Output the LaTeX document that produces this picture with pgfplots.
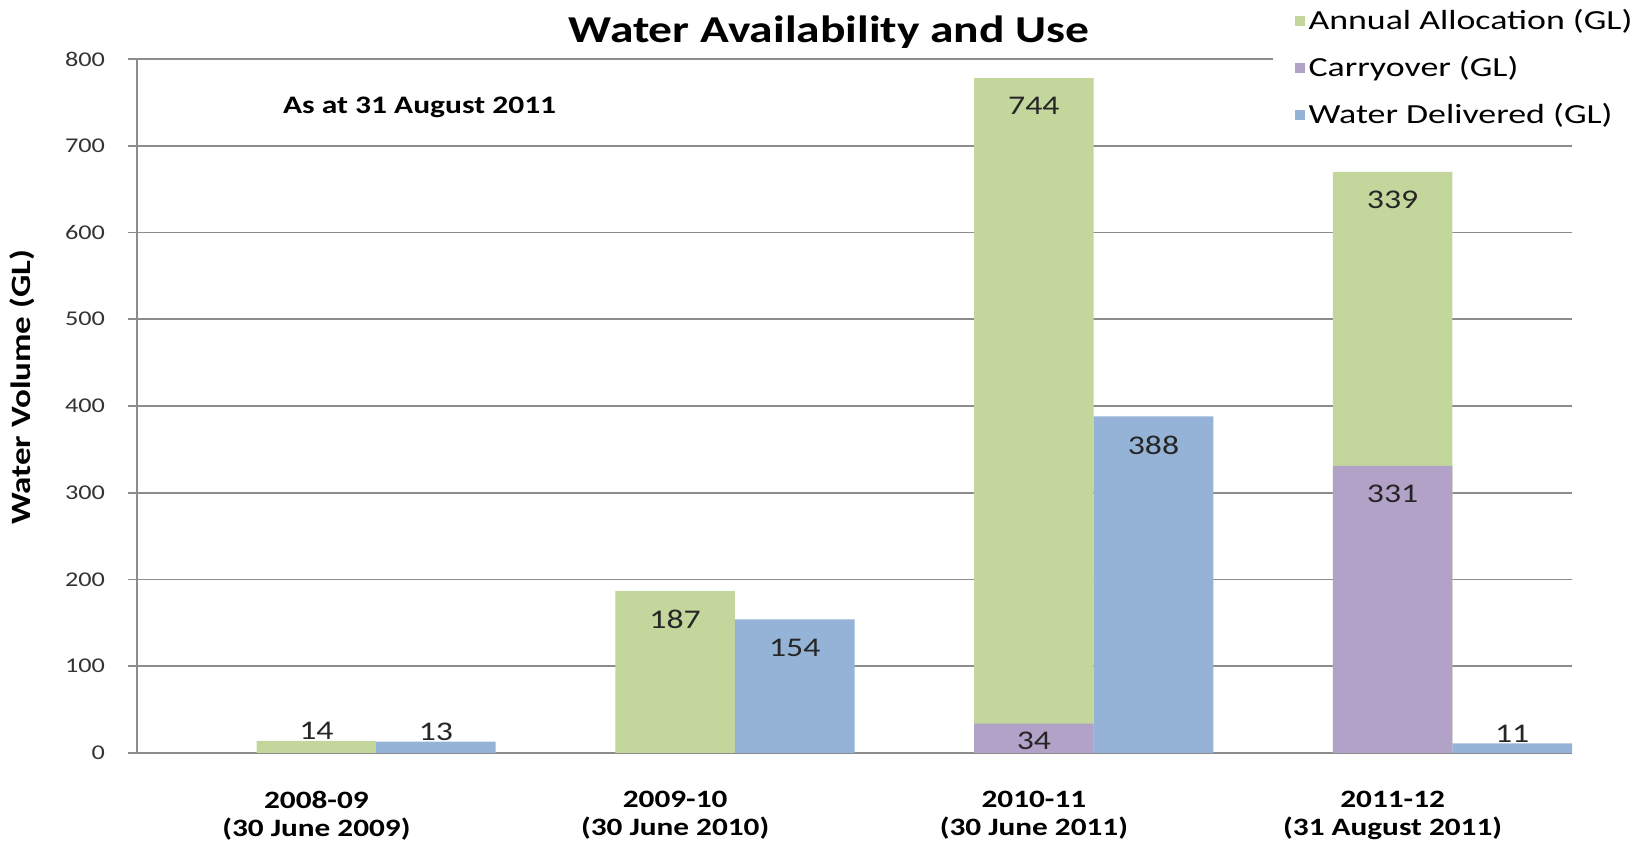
\documentclass[border=0pt]{standalone}
\usepackage{fontspec}
\setmainfont{Carlito}[FakeStretch=1.25]
\newfontfamily\legfont{Carlito}[FakeStretch=1.3]
\usepackage{pgfplots}
\usepackage{pgfplotstable}
\pgfplotsset{compat=1.18}

\definecolor{allocc}{HTML}{C3D69B}
\definecolor{carryc}{HTML}{B3A2C7}
\definecolor{delivc}{HTML}{95B3D7}
\definecolor{gridc}{HTML}{8C8C8C}

% dy = vertical shift of the value label (pt)
\pgfplotstableread{
x carry alloc dy
0 0   14  9.5
1 0   187 -9.5
2 34  744 -9.5
3 331 339 -9.5
}\leftbars
\pgfplotstableread{
x carry dy
2 34  -4
3 331 -9.5
}\carrybars
\pgfplotstableread{
x deliv dy
0 13  9.5
1 154 -9.5
2 388 -9.5
3 11  9.5
}\delivbars

\begin{document}
\begin{tikzpicture}
\useasboundingbox (-68.5pt,-46pt) rectangle (752.5pt,376.5pt);
\begin{axis}[
    at={(0pt,0pt)}, anchor=south west,
    scale only axis,
    width=717.5pt, height=347pt,
    xmin=-0.5, xmax=3.5,
    ymin=0, ymax=800,
    ytick={0,100,...,800},
    xtick={0,1,2,3},
    xticklabels={{2008-09\\(30 June 2009)},{2009-10\\(30 June 2010)},
                 {2010-11\\(30 June 2011)},{2011-12\\(31 August 2011)}},
    xticklabel style={align=center, font=\fontsize{12.5}{14}\selectfont\bfseries, yshift=-11pt},
    x tick style={draw=none},
    yticklabel style={font=\fontsize{10.5}{12}\selectfont, text=black!80, xshift=-8pt},
    /pgf/number format/assume math mode=true,
    y tick style={gridc, line width=0.8pt},
    tick align=outside,
    major tick length=4.5pt,
    axis x line*=bottom,
    axis y line*=left,
    axis line style={gridc, line width=0.8pt, -},
    ymajorgrids,
    grid style={gridc, line width=0.8pt},
    ylabel={Water Volume (GL)},
    ylabel style={at={(rel axis cs:-0.08,0.527)}, anchor=center,
                  font=\fontsize{14}{16}\selectfont\bfseries},
    legend style={at={(rel axis cs:0.791,1.084)}, anchor=north west,
                  draw=none, fill=white, font=\legfont\fontsize{13.8}{16}\selectfont,
                  row sep=8pt, inner xsep=11pt, inner ysep=2pt},
    legend cell align=left,
    legend image code/.code={\draw[#1,draw=none] (0pt,-2.5pt) rectangle (5pt,2.5pt);},
    nodes near coords,
    point meta=explicit,
    visualization depends on={\thisrow{dy} \as \labdy},
    every node near coord/.append style={anchor=north, inner sep=0pt,
        yshift=\labdy pt, font=\fontsize{13.5}{15}\selectfont, text=black!85},
]
\addplot[ybar, bar width=0.3333, bar shift=0pt, fill=allocc, draw=none]
    table[x=x, y expr=\thisrow{carry}+\thisrow{alloc}, meta=alloc] {\leftbars};
\addlegendentry{Annual Allocation (GL)}
\addplot[ybar, bar width=0.3333, bar shift=0pt, fill=carryc, draw=none]
    table[x=x, y=carry, meta=carry] {\carrybars};
\addlegendentry{Carryover (GL)}
\addplot[ybar, bar width=0.3333, bar shift=0pt, fill=delivc, draw=none]
    table[x expr=\thisrow{x}+1/3, y=deliv, meta=deliv] {\delivbars};
\addlegendentry{Water Delivered (GL)}
\end{axis}
\node[anchor=base, font=\fontsize{19}{22}\selectfont\bfseries] at (346pt,355pt)
    {Water Availability and Use};
\node[anchor=west, font=\fontsize{12.6}{15}\selectfont\bfseries] at (69.5pt,323pt)
    {As at 31 August 2011};
\end{tikzpicture}
\end{document}
